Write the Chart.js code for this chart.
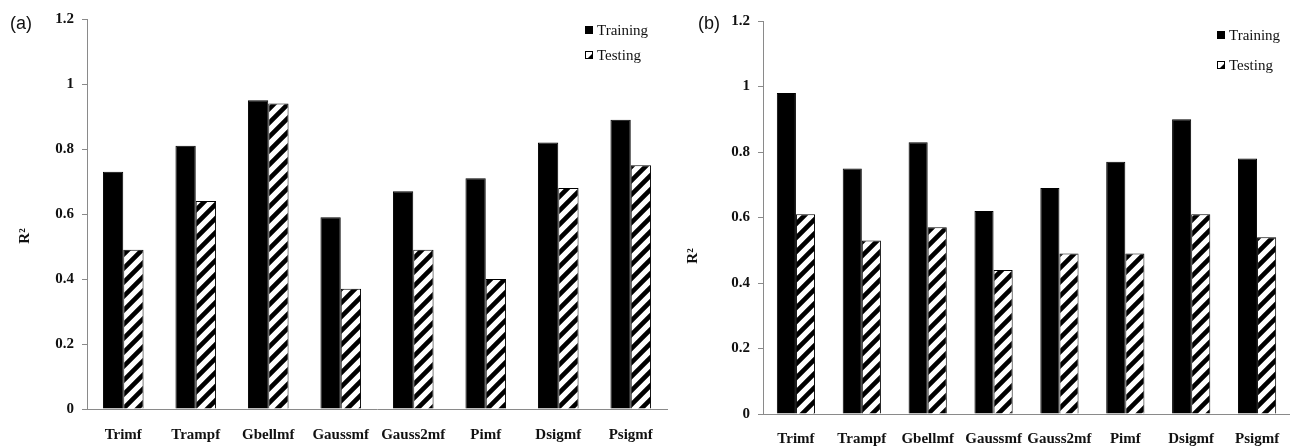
<!DOCTYPE html>
<html>
<head>
<meta charset="utf-8">
<script src="https://cdn.jsdelivr.net/npm/chart.js@4.4.1/dist/chart.umd.min.js"></script>
<style>
  html, body { margin: 0; padding: 0; background: #ffffff; }
  #wrap { position: relative; width: 1290px; height: 446px; background: #fff; overflow: hidden; }
  .panel { position: absolute; top: 0; }
</style>
</head>
<body>
<div id="wrap">
  <div class="panel" style="left:0px;"><canvas id="chartA" width="670" height="446"></canvas></div>
  <div class="panel" style="left:670px;"><canvas id="chartB" width="620" height="446"></canvas></div>
</div>
<script>
// ---- Data ----
const categories = ['Trimf', 'Trampf', 'Gbellmf', 'Gaussmf', 'Gauss2mf', 'Pimf', 'Dsigmf', 'Psigmf'];
const seriesNames = ['Training', 'Testing'];
const trainingA = [0.73, 0.81, 0.95, 0.59, 0.67, 0.71, 0.82, 0.89];
const testingA  = [0.49, 0.64, 0.94, 0.37, 0.49, 0.40, 0.68, 0.75];
const trainingB = [0.98, 0.75, 0.83, 0.62, 0.69, 0.77, 0.90, 0.78];
const testingB  = [0.61, 0.53, 0.57, 0.44, 0.49, 0.49, 0.61, 0.54];
const yTickLabels = ['0', '0.2', '0.4', '0.6', '0.8', '1', '1.2'];
const panelLabels = ['(a)', '(b)'];
const yTitle = 'R\u00B2';

// ---- Styles ----
const AXIS_COLOR = '#8a8a8a';
const SERIF = '"Liberation Serif", "Times New Roman", serif';
const SANS = '"Liberation Sans", Arial, sans-serif';

function hatchCanvas() {
  const S = 14;
  const c = document.createElement('canvas');
  c.width = S; c.height = S;
  const x = c.getContext('2d');
  x.fillStyle = '#ffffff';
  x.fillRect(0, 0, S, S);
  x.strokeStyle = '#000000';
  x.lineWidth = 4.6;
  x.beginPath();
  x.moveTo(-2, S + 2); x.lineTo(S + 2, -2);
  x.moveTo(-S / 2 - 2, S / 2 + 2); x.lineTo(S / 2 + 2, -S / 2 - 2);
  x.moveTo(S / 2 - 2, 1.5 * S + 2); x.lineTo(1.5 * S + 2, S / 2 - 2);
  x.stroke();
  return c;
}

function buildChart(canvasId, training, testing, cfg) {
  const ctx = document.getElementById(canvasId).getContext('2d');
  const hatch = ctx.createPattern(hatchCanvas(), 'repeat');

  const extras = {
    id: 'extras_' + canvasId,
    afterDraw(chart) {
      const c = chart.ctx;
      c.save();
      // panel label
      c.fillStyle = '#111';
      c.font = '18px ' + SANS;
      c.textAlign = 'left';
      c.textBaseline = 'middle';
      c.fillText(cfg.panelLabel, cfg.panelX, 24);
      // y title
      c.save();
      c.translate(cfg.titleX, cfg.titleY);
      c.rotate(-Math.PI / 2);
      c.font = 'bold 15px ' + SERIF;
      c.textAlign = 'center';
      c.textBaseline = 'middle';
      c.fillText(yTitle, 0, 0);
      c.restore();
      // legend
      const ds = chart.data.datasets;
      ds.forEach((d, i) => {
        const y = cfg.legendY[i];
        const bx = cfg.legendX, sz = 8;
        c.fillStyle = '#ffffff';
        c.fillRect(bx, y - sz / 2, sz, sz);
        c.fillStyle = '#000';
        if (i === 0) {
          c.fillRect(bx, y - sz / 2, sz, sz);
        } else {
          c.beginPath();
          c.moveTo(bx + sz, y - sz / 2 + 2);
          c.lineTo(bx + sz, y + sz / 2);
          c.lineTo(bx + 2, y + sz / 2);
          c.closePath();
          c.fill();
        }
        c.strokeStyle = '#000';
        c.lineWidth = 1;
        c.strokeRect(bx + 0.5, y - sz / 2 + 0.5, sz - 1, sz - 1);
        c.fillStyle = '#111';
        c.font = '15px ' + SERIF;
        c.textAlign = 'left';
        c.textBaseline = 'middle';
        c.fillText(d.label, bx + 12, y + 1);
      });
      c.restore();
    }
  };

  return new Chart(ctx, {
    type: 'bar',
    data: {
      labels: categories,
      datasets: [
        { label: seriesNames[0], data: training, backgroundColor: '#000000', borderColor: '#000000', borderWidth: 1 },
        { label: seriesNames[1], data: testing, backgroundColor: hatch, borderColor: '#000000', borderWidth: 1 }
      ]
    },
    options: {
      responsive: false,
      animation: false,
      devicePixelRatio: 1,
      layout: { padding: { top: cfg.top, right: cfg.right, left: 0, bottom: 0 } },
      datasets: { bar: { categoryPercentage: cfg.catPct, barPercentage: 1.0 } },
      plugins: { legend: { display: false }, tooltip: { enabled: false } },
      scales: {
        x: {
          grid: { display: false },
          border: { display: true, color: AXIS_COLOR, width: 1 },
          ticks: { color: '#111', font: { family: SERIF, size: 15, weight: 'bold' }, padding: cfg.xPad, maxRotation: 0, autoSkip: false },
          afterFit(scale) { scale.height = cfg.xHeight; scale.paddingLeft = 0; scale.paddingRight = 0; }
        },
        y: {
          min: 0, max: 1.2,
          grid: { display: true, drawOnChartArea: false, drawTicks: true, tickLength: 5, color: AXIS_COLOR },
          border: { display: true, color: AXIS_COLOR, width: 1 },
          ticks: {
            stepSize: 0.2,
            color: '#111',
            padding: 8,
            font: { family: SERIF, size: 15, weight: 'bold' },
            callback: (v, i) => yTickLabels[i]
          },
          afterFit(scale) { scale.width = cfg.yWidth; scale.paddingTop = 0; scale.paddingBottom = 0; }
        }
      }
    },
    plugins: [extras]
  });
}

buildChart('chartA', trainingA, testingA, {
  panelLabel: panelLabels[0], panelX: 10,
  titleX: 25, titleY: 236,
  legendX: 585, legendY: [30, 55],
  top: 19, right: 3, catPct: 0.56, xPad: 9, xHeight: 37, yWidth: 87
});
buildChart('chartB', trainingB, testingB, {
  panelLabel: panelLabels[1], panelX: 28,
  titleX: 23, titleY: 256,
  legendX: 547, legendY: [35, 65],
  top: 21, right: 0, catPct: 0.58, xPad: 8, xHeight: 32, yWidth: 93
});
</script>
</body>
</html>
